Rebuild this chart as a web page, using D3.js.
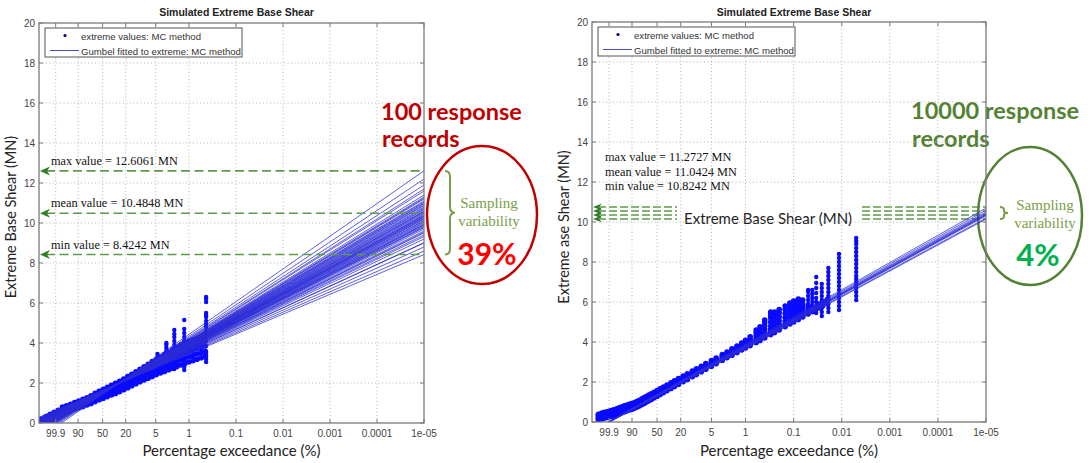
<!DOCTYPE html>
<html><head><meta charset="utf-8">
<script src="https://cdn.jsdelivr.net/npm/d3@7"></script>
<style>body{margin:0;background:#fff;} svg{display:block;}</style>
</head><body><svg id="c" width="1091" height="463"></svg>
<script>
// ---------------- DATA ----------------
const xTickValues = [99.9, 90, 50, 20, 5, 1, 0.1, 0.01, 0.001, 0.0001, 0.00001];
const xTickLabels = ["99.9", "90", "50", "20", "5", "1", "0.1", "0.01", "0.001", "0.0001", "1e-05"];
const yTickValues = [0, 2, 4, 6, 8, 10, 12, 14, 16, 18, 20];
const legendLabels = ["extreme values: MC method", "Gumbel fitted to extreme: MC method"];
const chartTitle = "Simulated Extreme Base Shear";
const xAxisLabel = "Percentage exceedance (%)";
const leftYLabel = "Extreme Base Shear (MN)";
const rightYLabel = "Extreme ase Shear (MN)";

// left chart: simulated extremes, groups of [exceedance %, values]
const leftBand = [
  [99.99986, [0.0, 0.05, 0.1, 0.15, 0.2]], [99.9984, [0.08, 0.14, 0.2, 0.26, 0.32]],
  [99.988, [0.16, 0.23, 0.3, 0.37, 0.44]], [99.94, [0.25, 0.32, 0.39, 0.46, 0.53]],
  [99.76, [0.34, 0.41, 0.48, 0.56, 0.64]], [99.29, [0.44, 0.52, 0.6, 0.7, 0.8]],
  [98.27, [0.54, 0.62, 0.7, 0.78, 0.86]], [96.38, [0.62, 0.7, 0.78, 0.86, 0.94]],
  [93.4, [0.7, 0.78, 0.86, 0.94, 1.02]], [89.2, [0.76, 0.85, 0.93, 1.01, 1.1]],
  [83.8, [0.82, 0.91, 1.0, 1.09, 1.18]], [77.5, [0.9, 0.99, 1.08, 1.17, 1.26]],
  [70.5, [0.98, 1.08, 1.17, 1.26, 1.36]], [63.2, [1.07, 1.17, 1.28, 1.38, 1.48]],
  [55.9, [1.16, 1.26, 1.37, 1.48, 1.58]], [48.85, [1.24, 1.35, 1.46, 1.57, 1.68]],
  [42.2, [1.32, 1.44, 1.55, 1.66, 1.78]], [36.2, [1.4, 1.52, 1.64, 1.76, 1.88]],
  [30.8, [1.48, 1.6, 1.73, 1.86, 1.98]], [26.0, [1.57, 1.7, 1.83, 1.96, 2.09]],
  [21.85, [1.66, 1.8, 1.93, 2.06, 2.2]], [18.28, [1.76, 1.9, 2.04, 2.18, 2.32]],
  [15.24, [1.86, 2.0, 2.15, 2.3, 2.44]], [12.66, [1.96, 2.1, 2.26, 2.42, 2.56]],
  [10.49, [2.06, 2.21, 2.37, 2.53, 2.68]], [8.67, [2.15, 2.31, 2.48, 2.65, 2.81]],
  [7.16, [2.24, 2.41, 2.59, 2.77, 2.94]], [5.9, [2.33, 2.52, 2.7, 2.88, 3.07]],
  [4.86, [2.42, 2.61, 2.8, 3.0, 3.18]], [4.0, [2.5, 2.7, 2.9, 3.1, 3.3]],
  [3.28, [2.58, 2.79, 3.0, 3.21, 3.42]], [2.69, [2.66, 2.88, 3.1, 3.32, 3.54]],
  [2.21, [2.74, 2.97, 3.2, 3.43, 3.66]], [1.81, [2.82, 3.06, 3.3, 3.54, 3.78]],
  [1.49, [2.9, 3.15, 3.4, 3.65, 3.9]], [1.22, [2.98, 3.24, 3.5, 3.76, 4.02]],
  [1.0, [3.05, 3.31, 3.57, 3.83, 4.09]], [0.82, [3.12, 3.38, 3.64, 3.9, 4.16]],
  [0.672, [3.19, 3.45, 3.71, 3.97, 4.23]], [0.55, [3.26, 3.52, 3.78, 4.04, 4.3]],
  [0.451, [3.33, 3.59, 3.85, 4.11, 4.37]]
];
const leftStreaks = [
  [4.6, [2.6, 2.75, 3.3, 3.45]],
  [3.0, [3.05, 3.6, 3.75, 3.9, 4.0]],
  [2.04, [2.7, 2.85, 3.0, 3.75, 3.9, 4.1, 4.3, 4.45, 4.65]],
  [1.26, [2.65, 2.8, 3.0, 3.2, 3.95, 4.1, 4.3, 4.5, 4.7, 5.15]],
  [0.433, [3.05, 3.2, 3.35, 3.5, 4.45, 4.6, 4.8, 4.95, 5.1, 5.3, 5.4, 5.5, 6.05, 6.2, 6.3]]
];
// left chart: Gumbel fits [location mu, scale beta]
const leftFits = [
  [1.169, 0.7097], [1.199, 0.6824], [1.221, 0.6625], [1.236, 0.6491], [1.243, 0.6425],
  [1.258, 0.6292], [1.265, 0.6225], [1.273, 0.6158], [1.280, 0.6092], [1.284, 0.6059],
  [1.287, 0.6025], [1.295, 0.5959], [1.302, 0.5892], [1.306, 0.5859], [1.309, 0.5826],
  [1.317, 0.5759], [1.320, 0.5726], [1.324, 0.5692], [1.328, 0.5659], [1.331, 0.5626],
  [1.335, 0.5593], [1.338, 0.5559], [1.342, 0.5526], [1.346, 0.5493], [1.353, 0.5426],
  [1.357, 0.5393], [1.360, 0.5360], [1.364, 0.5326], [1.368, 0.5293], [1.375, 0.5226],
  [1.382, 0.5160], [1.390, 0.5093], [1.397, 0.5027], [1.404, 0.4960], [1.419, 0.4827],
  [1.434, 0.4694], [1.448, 0.4561], [1.463, 0.4427], [1.476, 0.4308],
  [1.30, 0.575], [1.36, 0.548], [1.33, 0.561], [1.39, 0.520], [1.28, 0.595],
  [1.25, 0.620], [1.31, 0.580], [1.35, 0.555], [1.37, 0.530], [1.40, 0.505],
  [1.42, 0.490], [1.29, 0.600], [1.34, 0.545], [1.38, 0.525], [1.44, 0.470]
];
const leftStats = [12.6061, 10.4848, 8.4242];
const statNames = ["max value", "mean value", "min value"];

// right chart: simulated extremes
const rightBand = [
  [99.999, [0.11, 0.18, 0.25, 0.32, 0.39]], [99.995, [0.16, 0.23, 0.3, 0.37, 0.44]],
  [99.99, [0.18, 0.25, 0.32, 0.39, 0.46]], [99.98, [0.2, 0.27, 0.34, 0.41, 0.48]],
  [99.95, [0.23, 0.3, 0.37, 0.44, 0.51]], [99.9, [0.26, 0.33, 0.4, 0.47, 0.54]],
  [99.8, [0.29, 0.36, 0.43, 0.5, 0.57]], [99.6, [0.33, 0.4, 0.47, 0.54, 0.61]],
  [99.3, [0.36, 0.43, 0.5, 0.57, 0.64]], [99, [0.39, 0.46, 0.53, 0.6, 0.67]],
  [98.5, [0.43, 0.5, 0.57, 0.64, 0.71]], [98, [0.46, 0.53, 0.6, 0.67, 0.74]],
  [97, [0.5, 0.57, 0.64, 0.71, 0.78]], [96, [0.53, 0.6, 0.67, 0.74, 0.81]],
  [95, [0.56, 0.63, 0.7, 0.77, 0.84]], [93, [0.6, 0.67, 0.74, 0.81, 0.88]],
  [91, [0.63, 0.7, 0.77, 0.84, 0.91]], [89, [0.66, 0.73, 0.8, 0.87, 0.94]],
  [86, [0.71, 0.78, 0.85, 0.92, 0.99]], [83, [0.76, 0.83, 0.9, 0.97, 1.04]],
  [80, [0.81, 0.88, 0.95, 1.02, 1.09]], [76, [0.88, 0.95, 1.02, 1.09, 1.16]],
  [72, [0.94, 1.01, 1.08, 1.15, 1.22]], [68, [1.01, 1.08, 1.15, 1.22, 1.29]],
  [64, [1.07, 1.14, 1.21, 1.28, 1.35]], [60, [1.13, 1.2, 1.27, 1.34, 1.41]],
  [55, [1.21, 1.28, 1.35, 1.42, 1.49]], [50, [1.29, 1.36, 1.43, 1.5, 1.57]],
  [45, [1.38, 1.45, 1.52, 1.59, 1.66]], [40, [1.47, 1.54, 1.61, 1.68, 1.75]],
  [35, [1.57, 1.64, 1.71, 1.78, 1.85]], [30, [1.68, 1.75, 1.82, 1.89, 1.96]],
  [26, [1.78, 1.85, 1.92, 1.99, 2.06]], [22, [1.89, 1.96, 2.03, 2.1, 2.17]],
  [18, [2.02, 2.09, 2.16, 2.23, 2.3]], [15, [2.13, 2.2, 2.27, 2.34, 2.41]],
  [12, [2.27, 2.34, 2.41, 2.48, 2.55]], [10, [2.38, 2.45, 2.52, 2.59, 2.66]],
  [8, [2.51, 2.58, 2.65, 2.72, 2.79]], [6.5, [2.64, 2.71, 2.78, 2.85, 2.92]],
  [5, [2.79, 2.86, 2.93, 3.0, 3.07]], [4, [2.92, 2.99, 3.06, 3.13, 3.2]],
  [3, [3.09, 3.16, 3.23, 3.3, 3.37]], [2.4, [3.22, 3.29, 3.36, 3.43, 3.5]],
  [1.9, [3.34, 3.42, 3.5, 3.58, 3.66]], [1.5, [3.48, 3.56, 3.64, 3.72, 3.8]],
  [1.2, [3.6, 3.69, 3.77, 3.86, 3.95]], [1, [3.7, 3.79, 3.88, 3.98, 4.08]],
  [0.8, [3.82, 3.92, 4.02, 4.14, 4.26]], [0.6, [3.98, 4.08, 4.2, 4.34, 4.48, 4.6]],
  [0.5, [4.08, 4.18, 4.3, 4.46, 4.62, 4.76]], [0.4, [4.2, 4.3, 4.44, 4.62, 4.8, 4.96, 5.1]],
  [0.3, [4.37, 4.47, 4.62, 4.8, 5.0, 5.2, 5.35, 5.5]],
  [0.25, [4.48, 4.58, 4.72, 4.92, 5.12, 5.32, 5.5]], [0.2, [4.6, 4.7, 4.86, 5.06, 5.26, 5.46, 5.62]],
  [0.15, [4.77, 4.87, 5.02, 5.22, 5.42, 5.62, 5.8]], [0.12, [4.9, 5.0, 5.15, 5.35, 5.55, 5.75, 5.95]],
  [0.1, [5.0, 5.1, 5.25, 5.45, 5.65, 5.85, 6.05]], [0.08, [5.13, 5.23, 5.38, 5.58, 5.78, 5.98, 6.15]],
  [0.065, [5.25, 5.35, 5.5, 5.7, 5.9, 6.1]], [0.05, [5.4, 5.5, 5.62, 5.8]],
  [0.04, [5.53, 5.63, 5.75]], [0.03, [5.7, 5.8, 5.9]], [0.025, [5.8, 5.9, 6.0]],
  [0.02, [5.93, 6.03, 6.12]]
];
const rightStreaks = [
  [0.05, [5.6, 5.75, 5.9, 6.1, 6.3, 6.5, 6.6]],
  [0.041, [5.5, 5.65, 5.8, 6.0, 6.2, 6.4, 6.6]],
  [0.034, [5.45, 5.6, 5.8, 6.0, 6.2, 6.45, 6.7, 6.95, 7.25]],
  [0.026, [5.3, 5.5, 5.7, 5.9, 6.1, 6.3, 6.5, 6.7, 6.9]],
  [0.019, [5.5, 5.7, 5.9, 6.1, 6.3, 6.5, 6.7, 6.9, 7.1, 7.3, 7.5, 7.7]],
  [0.0114, [5.6, 5.8, 6.0, 6.2, 6.4, 6.6, 6.8, 7.0, 7.2, 7.4, 7.6, 7.8, 8.0, 8.2, 8.4]],
  [0.005, [6.1, 6.3, 6.5, 6.7, 6.85, 7.0, 7.15, 7.3, 7.5, 7.7, 7.9, 8.1, 8.3, 8.5, 8.7, 8.9, 9.05, 9.2]]
];
const rightFits = [
  [1.17, 0.591], [1.15, 0.586], [1.14, 0.581], [1.13, 0.578], [1.12, 0.576],
  [1.10, 0.571], [1.09, 0.565], [1.07, 0.563], [1.11, 0.574], [1.13, 0.572]
];
const rightStats = [11.2727, 11.0424, 10.8242];
const rightGuides = [10.75, 10.55, 10.35, 10.15];

// ---------------- DRAWING ----------------
const gumbel = p => -Math.log(-Math.log(1 - p / 100));
const svg = d3.select("#c");
const SANS = "'Liberation Sans', Arial, sans-serif";
const SERIF = "'Liberation Serif', 'Times New Roman', serif";
const CAL = "Lato, 'Open Sans', sans-serif";

function drawPanel(id, box, band, streaks, fits, yLabel) {
  const g = svg.append("g");
  const x = d3.scaleLinear().domain([-2.75, gumbel(0.00001)]).range([box.x0, box.x1]);
  const y = d3.scaleLinear().domain([0, 20]).range([box.y1, box.y0]);
  const xp = p => x(gumbel(p));

  g.append("clipPath").attr("id", id).append("rect")
    .attr("x", box.x0).attr("y", box.y0).attr("width", box.x1 - box.x0).attr("height", box.y1 - box.y0);

  // grid
  const grid = g.append("g").attr("stroke", "#b4b4b4").attr("stroke-width", 1).attr("stroke-dasharray", "1,2.5");
  grid.selectAll(".gx").data(xTickValues.slice(0, -1)).join("line")
    .attr("x1", d => xp(d)).attr("x2", d => xp(d)).attr("y1", box.y0).attr("y2", box.y1);
  grid.selectAll(".gy").data(yTickValues.slice(1, -1)).join("line")
    .attr("x1", box.x0).attr("x2", box.x1).attr("y1", d => y(d)).attr("y2", d => y(d));

  const plot = g.append("g").attr("clip-path", `url(#${id})`);
  // points
  const bandPts = [], streakPts = [];
  band.forEach(([p, vs]) => vs.forEach(v => bandPts.push([p, v])));
  streaks.forEach(([p, vs]) => vs.forEach(v => streakPts.push([p, v])));
  plot.append("g").attr("fill", "#0a0aff").selectAll("circle").data(bandPts).join("circle")
    .attr("cx", d => xp(d[0])).attr("cy", d => y(d[1])).attr("r", 2.8);
  plot.append("g").attr("fill", "#0a0aff").selectAll("circle").data(streakPts).join("circle")
    .attr("cx", d => xp(d[0])).attr("cy", d => y(d[1])).attr("r", 2.2);
  // fitted lines
  const line = d3.line().x(d => x(d[0])).y(d => y(d[1]));
  plot.append("g").attr("fill", "none").attr("stroke", "#2b2bd8").attr("stroke-width", 0.9).attr("stroke-opacity", 0.85)
    .selectAll("path").data(fits).join("path")
    .attr("d", ([mu, beta]) => line(x.domain().map(t => [t, mu + beta * t])));

  // frame
  g.append("rect").attr("x", box.x0).attr("y", box.y0).attr("width", box.x1 - box.x0).attr("height", box.y1 - box.y0)
    .attr("fill", "none").attr("stroke", "#7a7a7a").attr("stroke-width", 1.3);
  // ticks
  const tk = g.append("g").attr("stroke", "#7a7a7a").attr("stroke-width", 1);
  xTickValues.forEach(d => {
    tk.append("line").attr("x1", xp(d)).attr("x2", xp(d)).attr("y1", box.y1).attr("y2", box.y1 - 4);
    tk.append("line").attr("x1", xp(d)).attr("x2", xp(d)).attr("y1", box.y0).attr("y2", box.y0 + 4);
  });
  yTickValues.forEach(d => {
    tk.append("line").attr("x1", box.x0).attr("x2", box.x0 + 4).attr("y1", y(d)).attr("y2", y(d));
    tk.append("line").attr("x1", box.x1).attr("x2", box.x1 - 4).attr("y1", y(d)).attr("y2", y(d));
  });
  // tick labels
  g.append("g").attr("font-family", SANS).attr("font-size", 10).attr("fill", "#444").attr("text-anchor", "middle")
    .selectAll("text").data(xTickValues).join("text")
    .attr("x", d => xp(d)).attr("y", box.y1 + 14).text((d, i) => xTickLabels[i]);
  g.append("g").attr("font-family", SANS).attr("font-size", 10).attr("fill", "#444").attr("text-anchor", "end")
    .selectAll("text").data(yTickValues).join("text")
    .attr("x", box.x0 - 4).attr("y", d => y(d) + 3.5).text(d => d);

  // title & labels
  const cx = (box.x0 + box.x1) / 2;
  g.append("text").attr("x", cx + 5).attr("y", 16).attr("text-anchor", "middle")
    .attr("font-family", SANS).attr("font-weight", "bold").attr("font-size", 10.5).attr("fill", "#222").text(chartTitle);
  g.append("text").attr("x", cx).attr("y", 456).attr("text-anchor", "middle")
    .attr("font-family", CAL).attr("font-size", 15).attr("fill", "#222").text(xAxisLabel);
  g.append("text").attr("transform", `translate(${box.x0 - 23},${box.ly}) rotate(-90)`).attr("text-anchor", "middle")
    .attr("font-family", CAL).attr("font-size", 14.5).attr("fill", "#222").text(yLabel);

  // legend
  const lg = g.append("g");
  lg.append("rect").attr("x", box.x0 + 6).attr("y", box.y0 + 5).attr("width", 197).attr("height", 29)
    .attr("fill", "#fff").attr("stroke", "#555").attr("stroke-width", 1);
  lg.append("circle").attr("cx", box.x0 + 26).attr("cy", box.y0 + 12.5).attr("r", 1.6).attr("fill", "#00008b");
  lg.append("line").attr("x1", box.x0 + 11).attr("x2", box.x0 + 40).attr("y1", box.y0 + 27.5).attr("y2", box.y0 + 27.5)
    .attr("stroke", "#4a4acc").attr("stroke-width", 1);
  lg.selectAll("text").data(legendLabels).join("text")
    .attr("x", box.x0 + 42).attr("y", (d, i) => box.y0 + 16.5 + i * 15)
    .attr("font-family", SANS).attr("font-size", 9.6).attr("fill", "#333").text(d => d);
  return { g, x, y, xp };
}

// ---- left panel ----
const L = drawPanel("clipL", { x0: 39, x1: 424, y0: 23, y1: 423, ly: 217 }, leftBand, leftStreaks, leftFits, leftYLabel);
const green = "#5d9a4a", arrowGreen = "#2f7d24", olive = "#7a9e48";
const ann = svg.append("g");
leftStats.forEach((v, i) => {
  const yy = L.y(v);
  ann.append("line").attr("x1", 46).attr("x2", 424).attr("y1", yy).attr("y2", yy)
    .attr("stroke", green).attr("stroke-width", 1.6).attr("stroke-dasharray", "9,4.5");
  ann.append("path").attr("d", `M40,${yy} L50,${yy - 4.5} L47,${yy} L50,${yy + 4.5} Z`).attr("fill", arrowGreen);
  ann.append("text").attr("x", 51).attr("y", yy - 6).attr("font-family", SERIF).attr("font-size", 12.3).attr("fill", "#111")
    .text(`${statNames[i]} = ${v.toFixed(4)} MN`);
});
{
  const t = L.y(leftStats[0]), b = L.y(leftStats[2]), m = (t + b) / 2;
  ann.append("path").attr("d", `M445,${t} Q450,${t} 450,${t + 6} L450,${m - 6} Q450,${m} 455,${m} Q450,${m} 450,${m + 6} L450,${b - 6} Q450,${b} 445,${b}`)
    .attr("fill", "none").attr("stroke", olive).attr("stroke-width", 2);
}
ann.append("text").attr("x", 489).attr("y", 208).attr("text-anchor", "middle").attr("font-family", SERIF).attr("font-size", 15).attr("fill", olive).text("Sampling");
ann.append("text").attr("x", 489).attr("y", 226).attr("text-anchor", "middle").attr("font-family", SERIF).attr("font-size", 15).attr("fill", olive).text("variability");
ann.append("text").attr("x", 487).attr("y", 265).attr("text-anchor", "middle").attr("font-family", CAL).attr("font-weight", "bold").attr("font-size", 30).attr("fill", "#ff0000").text("39%");
ann.append("ellipse").attr("cx", 482).attr("cy", 215).attr("rx", 55).attr("ry", 69).attr("fill", "none").attr("stroke", "#c00000").attr("stroke-width", 2.5);
ann.append("text").attr("x", 381).attr("y", 120).attr("font-family", CAL).attr("font-weight", "bold").attr("font-size", 23.5).attr("fill", "#c00000").text("100 response");
ann.append("text").attr("x", 382).attr("y", 147).attr("font-family", CAL).attr("font-weight", "bold").attr("font-size", 23.5).attr("fill", "#c00000").text("records");

// ---- right panel ----
const R = drawPanel("clipR", { x0: 592, x1: 986, y0: 22, y1: 422, ly: 227 }, rightBand, rightStreaks, rightFits, rightYLabel);
rightGuides.forEach(v => {
  const yy = R.y(v);
  ann.append("line").attr("x1", 598).attr("x2", 986).attr("y1", yy).attr("y2", yy)
    .attr("stroke", green).attr("stroke-width", 1.4).attr("stroke-dasharray", "8,3");
  ann.append("path").attr("d", `M593,${yy} L602,${yy - 3.5} L599,${yy} L602,${yy + 3.5} Z`).attr("fill", arrowGreen);
});
ann.append("rect").attr("x", 677).attr("y", 205).attr("width", 183).attr("height", 27).attr("fill", "#fff");
ann.append("text").attr("x", 684).attr("y", 224).attr("font-family", CAL).attr("font-size", 15).attr("fill", "#222").text("Extreme Base Shear (MN)");
rightStats.forEach((v, i) => {
  ann.append("text").attr("x", 605).attr("y", 161 + i * 14.5).attr("font-family", SERIF).attr("font-size", 12.3).attr("fill", "#111")
    .text(`${statNames[i]} = ${v.toFixed(4)} MN`);
});
{
  const t = R.y(d3.max(rightGuides)), b = R.y(d3.min(rightGuides)), m = (t + b) / 2;
  ann.append("path").attr("d", `M1000,${t} Q1004,${t} 1004,${t + 3} L1004,${m - 2} Q1004,${m} 1008,${m} Q1004,${m} 1004,${m + 2} L1004,${b - 3} Q1004,${b} 1000,${b}`)
    .attr("fill", "none").attr("stroke", olive).attr("stroke-width", 2);
}
ann.append("text").attr("x", 1045).attr("y", 210).attr("text-anchor", "middle").attr("font-family", SERIF).attr("font-size", 15).attr("fill", olive).text("Sampling");
ann.append("text").attr("x", 1045).attr("y", 228).attr("text-anchor", "middle").attr("font-family", SERIF).attr("font-size", 15).attr("fill", olive).text("variability");
ann.append("text").attr("x", 1038).attr("y", 266).attr("text-anchor", "middle").attr("font-family", CAL).attr("font-weight", "bold").attr("font-size", 31).attr("fill", "#00b050").text("4%");
ann.append("ellipse").attr("cx", 1030).attr("cy", 216).attr("rx", 52).attr("ry", 69).attr("fill", "none").attr("stroke", "#548235").attr("stroke-width", 2.5);
ann.append("text").attr("x", 911).attr("y", 119).attr("font-family", CAL).attr("font-weight", "bold").attr("font-size", 23.5).attr("fill", "#548235").text("10000 response");
ann.append("text").attr("x", 912).attr("y", 147).attr("font-family", CAL).attr("font-weight", "bold").attr("font-size", 23.5).attr("fill", "#548235").text("records");
</script>
</body></html>
